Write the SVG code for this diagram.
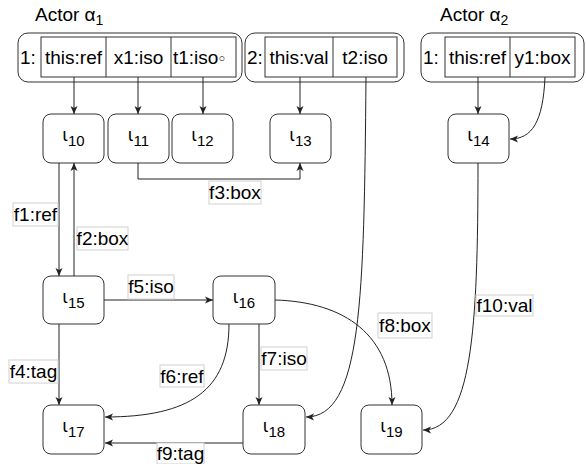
<svg xmlns="http://www.w3.org/2000/svg" width="586" height="464" viewBox="0 0 586 464">
<style>
text{font-family:"Liberation Sans",Arial,sans-serif;font-size:19px;fill:#000}
.c{fill:#fff;stroke:#333;stroke-width:1}
.cell{fill:#fff;stroke:#333;stroke-width:1}
.n{fill:#fff;stroke:#333;stroke-width:1}
.e{fill:none;stroke:#222;stroke-width:1;marker-end:url(#a)}
.lb{fill:#fff;stroke:#d0d0d0;stroke-width:1}
.m{text-anchor:middle}
.sub{font-size:14px}
.io{font-family:"DejaVu Sans",sans-serif;font-size:17px}
.nd{font-family:"Liberation Sans",Arial,sans-serif;font-size:15px}
</style>
<defs>
<marker id="a" viewBox="0 0 8 8" markerWidth="8" markerHeight="8" markerUnits="userSpaceOnUse" refX="8" refY="4" orient="auto">
<path d="M0,0.5 L8,4 L0,7.5 L2,4 Z" fill="#222"/>
</marker>
</defs>
<g id="title1"><text x="35" y="21">Actor α<tspan class="sub" dy="4">1</tspan></text></g>
<g id="title2"><text x="440" y="21">Actor α<tspan class="sub" dy="4">2</tspan></text></g>
<g id="frame1">
<rect class="c" x="18" y="33" width="224" height="49" rx="10"/>
<text x="20" y="64">1:</text>
<rect class="cell" x="41" y="37" width="195" height="40"/>
<line x1="106" y1="37" x2="106" y2="77" stroke="#333"/>
<line x1="171" y1="37" x2="171" y2="77" stroke="#333"/>
<text class="m" x="73.5" y="64">this:ref</text>
<text class="m" x="138.5" y="64">x1:iso</text>
<text x="173" y="64">t1:iso<tspan font-size="11" dy="-2">○</tspan></text>
</g>
<g id="frame2">
<rect class="c" x="245" y="33" width="159" height="49" rx="10"/>
<text x="247" y="64">2:</text>
<rect class="cell" x="265" y="37" width="132" height="40"/>
<line x1="333" y1="37" x2="333" y2="77" stroke="#333"/>
<text class="m" x="299" y="64">this:val</text>
<text class="m" x="365" y="64">t2:iso</text>
</g>
<g id="frame3">
<rect class="c" x="421" y="33" width="163" height="49" rx="10"/>
<text x="423" y="64">1:</text>
<rect class="cell" x="445" y="37" width="130" height="40"/>
<line x1="510" y1="37" x2="510" y2="77" stroke="#333"/>
<text class="m" x="477.5" y="64">this:ref</text>
<text class="m" x="542.5" y="64">y1:box</text>
</g>
<g id="l10"><rect class="n" x="43" y="114" width="61" height="49" rx="8"/><text class="m" x="73.5" y="141"><tspan class="io">ι</tspan><tspan class="nd" dy="5">10</tspan></text></g>
<g id="l11"><rect class="n" x="108" y="114" width="61" height="49" rx="8"/><text class="m" x="138.5" y="141"><tspan class="io">ι</tspan><tspan class="nd" dy="5">11</tspan></text></g>
<g id="l12"><rect class="n" x="172" y="114" width="61" height="49" rx="8"/><text class="m" x="202.5" y="141"><tspan class="io">ι</tspan><tspan class="nd" dy="5">12</tspan></text></g>
<g id="l13"><rect class="n" x="270" y="114" width="61" height="49" rx="8"/><text class="m" x="300.5" y="141"><tspan class="io">ι</tspan><tspan class="nd" dy="5">13</tspan></text></g>
<g id="l14"><rect class="n" x="448" y="114" width="61" height="49" rx="8"/><text class="m" x="478.5" y="141"><tspan class="io">ι</tspan><tspan class="nd" dy="5">14</tspan></text></g>
<g id="l15"><rect class="n" x="43" y="276" width="61" height="48" rx="8"/><text class="m" x="73.5" y="303"><tspan class="io">ι</tspan><tspan class="nd" dy="5">15</tspan></text></g>
<g id="l16"><rect class="n" x="213" y="276" width="62" height="48" rx="8"/><text class="m" x="244" y="303"><tspan class="io">ι</tspan><tspan class="nd" dy="5">16</tspan></text></g>
<g id="l17"><rect class="n" x="43" y="405" width="61" height="49" rx="8"/><text class="m" x="73.5" y="432"><tspan class="io">ι</tspan><tspan class="nd" dy="5">17</tspan></text></g>
<g id="l18"><rect class="n" x="243" y="405" width="62" height="49" rx="8"/><text class="m" x="274" y="432"><tspan class="io">ι</tspan><tspan class="nd" dy="5">18</tspan></text></g>
<g id="l19"><rect class="n" x="361" y="405" width="61" height="49" rx="8"/><text class="m" x="391.5" y="432"><tspan class="io">ι</tspan><tspan class="nd" dy="5">19</tspan></text></g>
<g id="connectors">
<path class="e" d="M74,77 V114"/>
<path class="e" d="M138,77 V114"/>
<path class="e" d="M203,77 V114"/>
<path class="e" d="M300,77 V114"/>
<path class="e" d="M478,77 V114"/>
<path class="e" d="M545,77 C543,122 532,139 510,139"/>
<path class="e" d="M366,77 C364,300 362,417 306,417"/>
<path class="e" d="M138,163 V179 H300 V163"/>
<path class="e" d="M59,163 V276"/>
<path class="e" d="M74,276 V163"/>
<path class="e" d="M59,324 V405"/>
<path class="e" d="M104,300 H213"/>
<path class="e" d="M229,324 C229,390 190,417 105,417"/>
<path class="e" d="M259,324 V405"/>
<path class="e" d="M275,300 C345,302 392,335 392,405"/>
<path class="e" d="M243,443 H105"/>
<path class="e" d="M478,163 C478,330 472,430 423,430"/>
<rect class="lb" x="209" y="181" width="52" height="23"/><text class="m" x="235" y="199">f3:box</text>
<rect class="lb" x="13" y="203" width="45" height="23"/><text class="m" x="35.5" y="221">f1:ref</text>
<rect class="lb" x="77" y="227" width="51" height="23"/><text class="m" x="102.5" y="245">f2:box</text>
<rect class="lb" x="128" y="275" width="46" height="24"/><text class="m" x="151" y="293">f5:iso</text>
<rect class="lb" x="9" y="360" width="49" height="23"/><text class="m" x="33.5" y="378">f4:tag</text>
<rect class="lb" x="160" y="365" width="44" height="22"/><text class="m" x="182" y="383">f6:ref</text>
<rect class="lb" x="261" y="347" width="46" height="23"/><text class="m" x="284" y="365">f7:iso</text>
<rect class="lb" x="378" y="313" width="54" height="25"/><text class="m" x="405" y="332">f8:box</text>
<rect class="lb" x="157" y="443" width="47" height="21"/><text class="m" x="180.5" y="460">f9:tag</text>
<rect class="lb" x="476" y="295" width="57" height="21"/><text class="m" x="504.5" y="312">f10:val</text>
</g>
</svg>
